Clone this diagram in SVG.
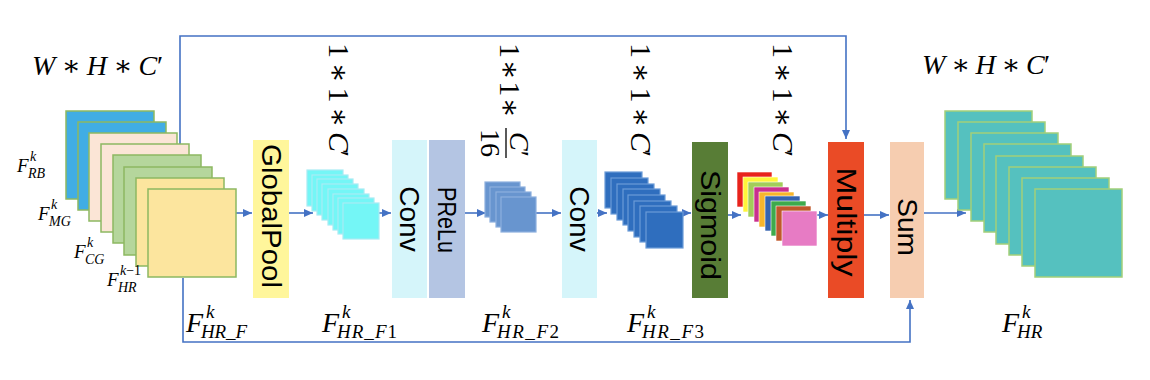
<svg xmlns="http://www.w3.org/2000/svg" width="1150" height="380" viewBox="0 0 1150 380">
<style>
.m{font-family:"Liberation Serif","DejaVu Serif",serif;font-style:italic;fill:#000}
.n{font-style:normal}
.big{font-size:28px}
.vt{font-size:30px}
.sub{font-size:19px}
.sm{font-size:19px}
.ss{font-size:14px}
.lbl{font-family:"Liberation Sans",Arial,sans-serif;font-size:28px;fill:#000;text-anchor:middle;dominant-baseline:central}
.in{stroke:#8DB861;stroke-width:1.5}
.cy{fill:#74F6F6;stroke:#A8ECF4;stroke-width:1.2}
.b2{fill:#6895CF;stroke:#8DB0DE;stroke-width:1.2}
.b3{fill:#2F6EBE;stroke:#6B9BD8;stroke-width:1.2}
.out{fill:#55C1BF;stroke:#A3CF79;stroke-width:1.5}
.col{stroke:#ffffff;stroke-width:0.6}
.con{fill:none;stroke:#4472C4;stroke-width:1.6}
</style>
<defs>
<marker id="ah" markerUnits="userSpaceOnUse" markerWidth="10" markerHeight="8" refX="9" refY="4" orient="auto">
<path d="M0,0 L9,4 L0,8 z" fill="#4472C4"/>
</marker>
</defs>
<rect width="1150" height="380" fill="#ffffff"/>

<g id="connectors">
<path class="con" d="M180,145 V36 H846 V139" marker-end="url(#ah)"/>
<path class="con" d="M183,278 V342 H910 V300" marker-end="url(#ah)"/>
<path class="con" d="M236,213 H252" marker-end="url(#ah)"/>
<path class="con" d="M289,213 H313" marker-end="url(#ah)"/>
<path class="con" d="M379,213 H391" marker-end="url(#ah)"/>
<path class="con" d="M465,213 H486" marker-end="url(#ah)"/>
<path class="con" d="M536,213 H561" marker-end="url(#ah)"/>
<path class="con" d="M597,213 H607" marker-end="url(#ah)"/>
<path class="con" d="M683,213 H691" marker-end="url(#ah)"/>
<path class="con" d="M728,215 H741" marker-end="url(#ah)"/>
<path class="con" d="M817,215 H828" marker-end="url(#ah)"/>
<path class="con" d="M864,215 H889" marker-end="url(#ah)"/>
<path class="con" d="M924,213 H966" marker-end="url(#ah)"/>
</g>

<g id="input-stack">
<rect class="in" x="66" y="111" width="88" height="88" fill="#41ADE4"/>
<rect class="in" x="78" y="122" width="88" height="88" fill="#41ADE4"/>
<rect class="in" x="89" y="133" width="88" height="88" fill="#FBE5D6"/>
<rect class="in" x="101" y="144" width="88" height="88" fill="#FBE5D6"/>
<rect class="in" x="113" y="155" width="88" height="88" fill="#B5D69C"/>
<rect class="in" x="124" y="167" width="88" height="88" fill="#B5D69C"/>
<rect class="in" x="136" y="178" width="88" height="88" fill="#FCE59E"/>
<rect class="in" x="148" y="189" width="88" height="88" fill="#FCE59E"/>
</g>
<g id="input-labels">
<text class="m sm" x="17" y="172">F</text><text class="m ss" x="30" y="161">k</text><text class="m ss" x="28" y="178">RB</text>
<text class="m sm" x="38" y="220">F</text><text class="m ss" x="51" y="209">k</text><text class="m ss" x="49" y="226">MG</text>
<text class="m sm" x="74" y="258">F</text><text class="m ss" x="87" y="247">k</text><text class="m ss" x="85" y="264">CG</text>
<text class="m sm" x="107" y="286">F</text><text class="m ss" x="120" y="275">k<tspan class="n">−1</tspan></text><text class="m ss" x="118" y="292">HR</text>
</g>
<g id="top-left-dim">
<text class="m big" x="32" y="75" textLength="131" lengthAdjust="spacing">W <tspan class="n">∗</tspan> H <tspan class="n">∗</tspan> C<tspan class="n">′</tspan></text>
</g>
<g id="label-HR_F">
<text class="m big" x="186" y="332">F</text><text class="m sub" x="206" y="318">k</text><text class="m sub" x="201" y="338" textLength="46">HR_F</text>
</g>

<g id="globalpool">
<rect x="253" y="140" width="36" height="158" fill="#FFF69B"/>
<text class="lbl" transform="translate(271,216) rotate(90)" textLength="144" lengthAdjust="spacingAndGlyphs">GlobalPool</text>
</g>

<g id="f1-stack">
<rect class="cy" x="307" y="170" width="36" height="36"/>
<rect class="cy" x="312" y="175" width="36" height="36"/>
<rect class="cy" x="317" y="179" width="36" height="36"/>
<rect class="cy" x="322" y="184" width="36" height="36"/>
<rect class="cy" x="328" y="189" width="36" height="36"/>
<rect class="cy" x="333" y="194" width="36" height="36"/>
<rect class="cy" x="338" y="198" width="36" height="36"/>
<rect class="cy" x="343" y="203" width="36" height="36"/>
</g>
<g id="dim-f1">
<text class="m vt" transform="translate(329,43) rotate(90)" textLength="114" lengthAdjust="spacing"><tspan class="n">1 ∗ 1 ∗ </tspan>C<tspan class="n">′</tspan></text>
</g>
<g id="label-f1">
<text class="m big" x="322" y="332">F</text><text class="m sub" x="342" y="318">k</text><text class="m sub" x="337" y="338" textLength="60">HR_F<tspan class="n">1</tspan></text>
</g>

<g id="conv1">
<rect x="392" y="140" width="35" height="158" fill="#D5F5FA"/>
<text class="lbl" transform="translate(409.5,219) rotate(90)">Conv</text>
</g>
<g id="prelu">
<rect x="429" y="140" width="36" height="158" fill="#B4C5E3"/>
<text class="lbl" style="font-size:25px" transform="translate(447,220) rotate(90)" textLength="66" lengthAdjust="spacingAndGlyphs">PReLu</text>
</g>

<g id="f2-stack">
<rect class="b2" x="485" y="182" width="35" height="35"/>
<rect class="b2" x="490" y="187" width="35" height="35"/>
<rect class="b2" x="496" y="192" width="35" height="35"/>
<rect class="b2" x="501" y="197" width="35" height="35"/>
</g>
<g id="dim-f2">
<text class="m vt n" transform="translate(500,43) rotate(90)" textLength="75" lengthAdjust="spacing">1 ∗ 1 ∗</text>
<line x1="506" y1="128" x2="506" y2="158" stroke="#000" stroke-width="1.3"/>
<text class="m big n" transform="translate(481,129) rotate(90)">16</text>
<text class="m big" transform="translate(510,132) rotate(90)">C<tspan class="n">′</tspan></text>
</g>
<g id="label-f2">
<text class="m big" x="482" y="332">F</text><text class="m sub" x="502" y="318">k</text><text class="m sub" x="497" y="338" textLength="62">HR_F<tspan class="n">2</tspan></text>
</g>

<g id="conv2">
<rect x="562" y="140" width="35" height="158" fill="#D5F5FA"/>
<text class="lbl" transform="translate(579.5,219) rotate(90)">Conv</text>
</g>

<g id="f3-stack">
<rect class="b3" x="605" y="172" width="37" height="36"/>
<rect class="b3" x="611" y="178" width="37" height="36"/>
<rect class="b3" x="617" y="184" width="37" height="36"/>
<rect class="b3" x="623" y="189" width="37" height="36"/>
<rect class="b3" x="628" y="195" width="37" height="36"/>
<rect class="b3" x="634" y="201" width="37" height="36"/>
<rect class="b3" x="640" y="206" width="37" height="36"/>
<rect class="b3" x="646" y="212" width="37" height="36"/>
</g>
<g id="dim-f3">
<text class="m vt" transform="translate(631,43) rotate(90)" textLength="114" lengthAdjust="spacing"><tspan class="n">1 ∗ 1 ∗ </tspan>C<tspan class="n">′</tspan></text>
</g>
<g id="label-f3">
<text class="m big" x="627" y="332">F</text><text class="m sub" x="647" y="318">k</text><text class="m sub" x="642" y="338" textLength="62">HR_F<tspan class="n">3</tspan></text>
</g>

<g id="sigmoid">
<rect x="692" y="142" width="36" height="156" fill="#587D36"/>
<text class="lbl" transform="translate(710,225) rotate(90)" textLength="110" lengthAdjust="spacingAndGlyphs">Sigmoid</text>
</g>

<g id="weights-stack">
<rect class="col" x="737" y="172" width="35" height="35" fill="#E8231C"/>
<rect class="col" x="743" y="177" width="35" height="35" fill="#FFF53A"/>
<rect class="col" x="748" y="182" width="35" height="35" fill="#A2CD5A"/>
<rect class="col" x="754" y="187" width="35" height="35" fill="#C9308E"/>
<rect class="col" x="759" y="192" width="35" height="35" fill="#F7B52C"/>
<rect class="col" x="765" y="196" width="35" height="35" fill="#3563B0"/>
<rect class="col" x="771" y="201" width="35" height="35" fill="#3EAA4C"/>
<rect class="col" x="776" y="206" width="35" height="35" fill="#C0582A"/>
<rect class="col" x="782" y="211" width="35" height="35" fill="#E77BC4"/>
</g>
<g id="dim-w">
<text class="m vt" transform="translate(773,43) rotate(90)" textLength="114" lengthAdjust="spacing"><tspan class="n">1 ∗ 1 ∗ </tspan>C<tspan class="n">′</tspan></text>
</g>

<g id="multiply">
<rect x="828" y="142" width="36" height="156" fill="#EA4B26"/>
<text class="lbl" transform="translate(846,222) rotate(90)" textLength="109" lengthAdjust="spacingAndGlyphs">Multiply</text>
</g>

<g id="sum">
<rect x="890" y="142" width="34" height="156" fill="#F6CDB0"/>
<text class="lbl" transform="translate(907,227) rotate(90)">Sum</text>
</g>

<g id="output-stack">
<rect class="out" x="945" y="111" width="87" height="88"/>
<rect class="out" x="958" y="122" width="87" height="88"/>
<rect class="out" x="971" y="133" width="87" height="88"/>
<rect class="out" x="984" y="144" width="87" height="88"/>
<rect class="out" x="996" y="156" width="87" height="88"/>
<rect class="out" x="1009" y="167" width="87" height="88"/>
<rect class="out" x="1022" y="178" width="87" height="88"/>
<rect class="out" x="1035" y="189" width="87" height="88"/>
</g>
<g id="top-right-dim">
<text class="m big" x="922" y="74" textLength="128" lengthAdjust="spacing">W <tspan class="n">∗</tspan> H <tspan class="n">∗</tspan> C<tspan class="n">′</tspan></text>
</g>
<g id="label-out">
<text class="m big" x="1002" y="332">F</text><text class="m sub" x="1022" y="318">k</text><text class="m sub" x="1017" y="338">HR</text>
</g>
</svg>
